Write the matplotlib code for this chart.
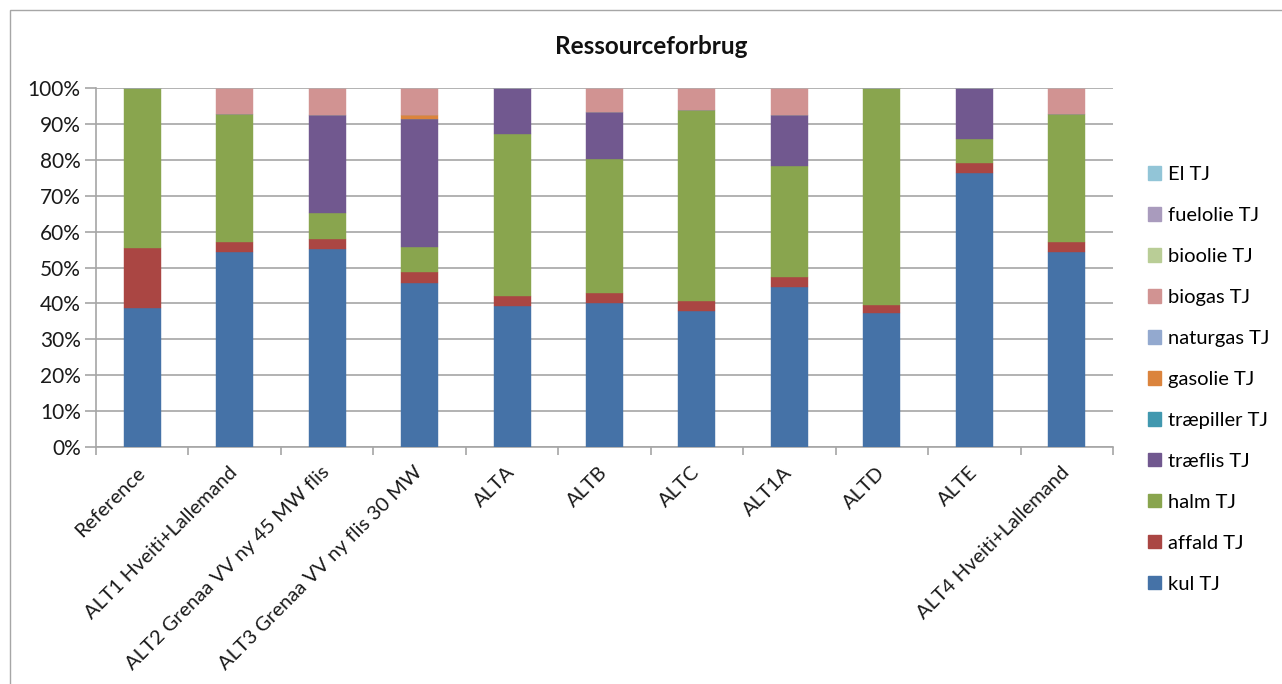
import matplotlib
matplotlib.use("Agg")
import matplotlib.pyplot as plt
from matplotlib.patches import Rectangle, Patch
from matplotlib.ticker import FixedLocator, PercentFormatter
from matplotlib.transforms import ScaledTranslation
import numpy as np

plt.rcParams['font.family'] = ['Lato', 'DejaVu Sans']

categories = ["Reference", "ALT1 Hveiti+Lallemand", "ALT2 Grenaa VV ny 45 MW flis",
              "ALT3 Grenaa VV ny flis 30 MW", "ALTA", "ALTB", "ALTC", "ALT1A",
              "ALTD", "ALTE", "ALT4 Hveiti+Lallemand"]

series_names = ["kul TJ", "affald TJ", "halm TJ", "træflis TJ", "træpiller TJ",
                "gasolie TJ", "naturgas TJ", "biogas TJ", "bioolie TJ",
                "fuelolie TJ", "El TJ"]

kul       = [38.6, 54.2, 55.1, 45.6, 39.3, 40.2, 38.0, 44.5, 37.2, 76.2, 54.2]
affald    = [16.9,  3.0,  2.8,  3.1,  2.7,  2.8,  2.6,  2.8,  2.3,  2.9,  3.0]
halm      = [44.5, 35.6,  7.2,  7.1, 45.3, 37.3, 53.2, 31.1, 60.5,  6.7, 35.6]
traeflis  = [ 0.0,  0.0, 27.5, 35.5, 12.7, 13.1,  0.0, 14.2,  0.0, 14.2,  0.0]
traepiller= [ 0.0,  0.0,  0.0,  0.0,  0.0,  0.0,  0.0,  0.0,  0.0,  0.0,  0.0]
gasolie   = [ 0.0,  0.0,  0.0,  1.3,  0.0,  0.0,  0.0,  0.0,  0.0,  0.0,  0.0]
naturgas  = [ 0.0,  0.0,  0.0,  0.0,  0.0,  0.0,  0.0,  0.0,  0.0,  0.0,  0.0]
biogas    = [ 0.0,  7.2,  7.4,  7.4,  0.0,  6.6,  6.2,  7.4,  0.0,  0.0,  7.2]
bioolie   = [ 0.0,  0.0,  0.0,  0.0,  0.0,  0.0,  0.0,  0.0,  0.0,  0.0,  0.0]
fuelolie  = [ 0.0,  0.0,  0.0,  0.0,  0.0,  0.0,  0.0,  0.0,  0.0,  0.0,  0.0]
el        = [ 0.0,  0.0,  0.0,  0.0,  0.0,  0.0,  0.0,  0.0,  0.0,  0.0,  0.0]

colors = ["#4572A7", "#AA4643", "#89A54E", "#71588F", "#4198AF", "#DB843D",
          "#93A9CF", "#D19392", "#B9CD96", "#A99BBD", "#92C5D7"]

data = [kul, affald, halm, traeflis, traepiller, gasolie, naturgas, biogas,
        bioolie, fuelolie, el]

W, H = 1282, 684
fig = plt.figure(figsize=(W / 100, H / 100), dpi=100)

# outer chart border
fig.patches.append(Rectangle((10 / W, -0.01), 1.1, 1 - 10 / H + 0.01,
                             transform=fig.transFigure, fill=False,
                             edgecolor="#A6A6A6", linewidth=1.0))

ax = fig.add_axes([96 / W, 1 - 447 / H, (1113 - 96) / W, (447 - 88) / H])

x = np.arange(len(categories))
arr = np.array(data, dtype=float)
totals = arr.sum(axis=0)
pct = arr / totals * 100
bottom = np.zeros(len(categories))
for vals, name, col in zip(pct, series_names, colors):
    ax.bar(x, vals, bottom=bottom, width=0.4, color=col, label=name,
           edgecolor=col, linewidth=0.3, zorder=3)
    bottom += vals

ax.set_xlim(-0.5, len(categories) - 0.5)
ax.set_ylim(0, 100)
ax.yaxis.set_major_locator(FixedLocator(np.arange(0, 101, 10)))
ax.yaxis.set_major_formatter(PercentFormatter(decimals=0))
ax.yaxis.grid(True, color="#A6A6A6", linewidth=1.2, zorder=0)
ax.set_axisbelow(True)

for s in ["top", "right"]:
    ax.spines[s].set_visible(False)
for s in ["left", "bottom"]:
    ax.spines[s].set_color("#A6A6A6")
    ax.spines[s].set_linewidth(1.2)

ax.tick_params(axis="y", length=8, width=1.2, color="#A6A6A6", labelsize=15,
               labelcolor="#1a1a1a", pad=3)
ax.set_xticks(x)
ax.set_xticklabels(categories, rotation=45, ha="right", va="top",
                   rotation_mode="anchor", fontsize=14.5, color="#1a1a1a")
ax.tick_params(axis="x", length=0, pad=12)
offset = ScaledTranslation(-6 / 100, 0, fig.dpi_scale_trans)
for lbl in ax.get_xticklabels():
    lbl.set_transform(lbl.get_transform() + offset)
ax.set_xticks(np.arange(-0.5, len(categories), 1.0), minor=True)
ax.tick_params(axis="x", which="minor", length=6, width=1.2, color="#A6A6A6")

fig.text(651 / W, 1 - 47 / H, "Ressourceforbrug", ha="center", va="center",
         fontsize=17.5, fontweight="bold", color="#111111")

handles = [Patch(facecolor=c, edgecolor=c, label=n)
           for n, c in zip(series_names, colors)][::-1]
fig.legend(handles=handles, loc="upper left",
           bbox_to_anchor=(1138 / W, 1 - 156 / H), frameon=False,
           fontsize=14.5, handlelength=0.65, handleheight=0.65,
           handletextpad=0.35, labelspacing=1.19, borderpad=0)

fig.savefig("out.png", dpi=100, facecolor="white")
